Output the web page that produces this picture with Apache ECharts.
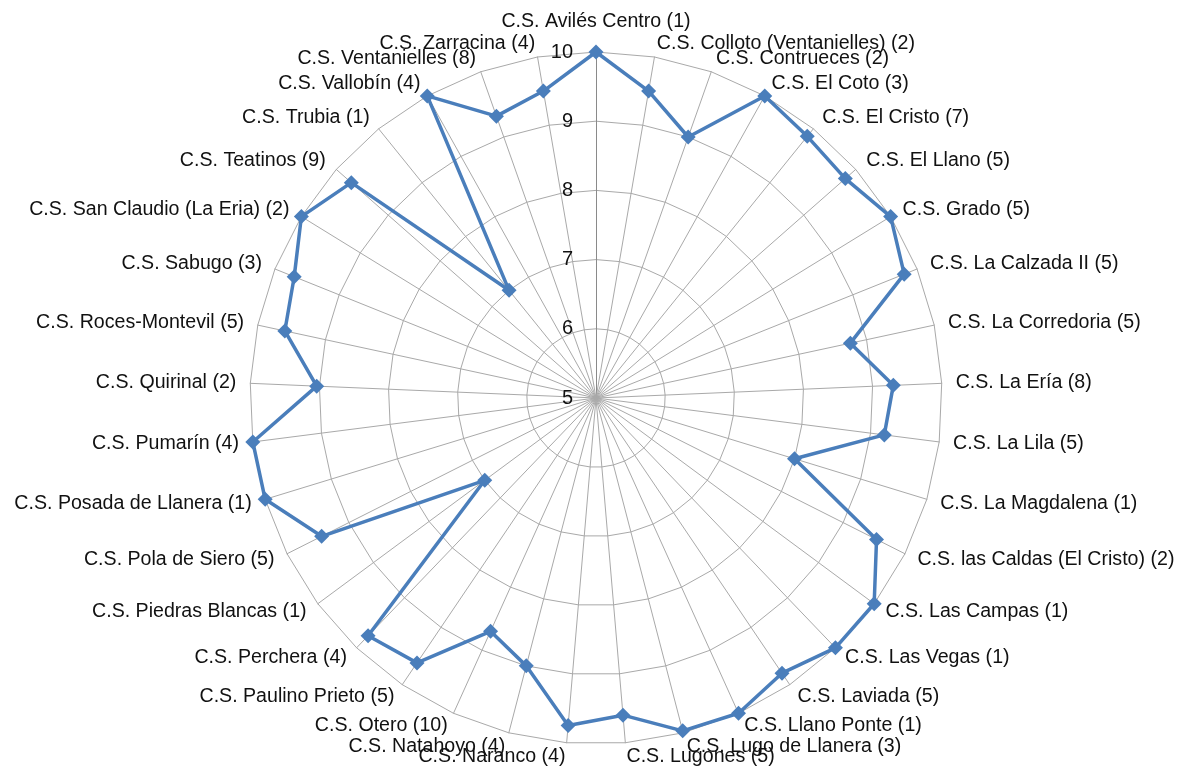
<!DOCTYPE html>
<html>
<head>
<meta charset="utf-8">
<script src="https://cdn.jsdelivr.net/npm/echarts@6/dist/echarts.min.js"></script>
<style>
html,body{margin:0;padding:0;background:#fff;}
#chart{width:1180px;height:769px;}
</style>
</head>
<body>
<div id="chart"></div>
<script>
// Categories in clockwise order starting from the top
const categories = [
  'C.S. Avilés Centro (1)',
  'C.S. Colloto (Ventanielles) (2)',
  'C.S. Contrueces (2)',
  'C.S. El Coto (3)',
  'C.S. El Cristo (7)',
  'C.S. El Llano (5)',
  'C.S. Grado (5)',
  'C.S. La Calzada II (5)',
  'C.S. La Corredoria (5)',
  'C.S. La Ería (8)',
  'C.S. La Lila (5)',
  'C.S. La Magdalena (1)',
  'C.S. las Caldas (El Cristo) (2)',
  'C.S. Las Campas (1)',
  'C.S. Las Vegas (1)',
  'C.S. Laviada (5)',
  'C.S. Llano Ponte (1)',
  'C.S. Lugo de Llanera (3)',
  'C.S. Lugones (5)',
  'C.S. Naranco (4)',
  'C.S. Natahoyo (4)',
  'C.S. Otero (10)',
  'C.S. Paulino Prieto (5)',
  'C.S. Perchera (4)',
  'C.S. Piedras Blancas (1)',
  'C.S. Pola de Siero (5)',
  'C.S. Posada de Llanera (1)',
  'C.S. Pumarín (4)',
  'C.S. Quirinal (2)',
  'C.S. Roces-Montevil (5)',
  'C.S. Sabugo (3)',
  'C.S. San Claudio (La Eria) (2)',
  'C.S. Teatinos (9)',
  'C.S. Trubia (1)',
  'C.S. Vallobín (4)',
  'C.S. Ventanielles (8)',
  'C.S. Zarracina (4)'
];

const values = [
  10, 9.5, 9.0, 10, 9.86, 9.8, 10, 9.8, 8.76, 9.3,
  9.2, 8.0, 9.54, 10, 10, 9.8, 10, 9.97, 9.6, 9.75,
  9.0, 8.7, 9.62, 9.76, 7.0, 9.44, 10, 10, 9.04, 9.6,
  9.7, 10, 9.71, 7.0, 10, 9.32, 9.5
];

const tickLabels = ['5', '6', '7', '8', '9', '10'];
const axisMin = 5;
const axisMax = 10;

// ECharts radar runs counter-clockwise; reverse all but the first to go clockwise
const order = [0];
for (let i = categories.length - 1; i >= 1; i--) order.push(i);

const FONT = 'Liberation Sans';
const TEXT = '#111111';
const GRID = '#a9a9a9';
const FS = 19.6;

const indicators = order.map(function (i, k) {
  const ind = { name: categories[i], min: axisMin, max: axisMax };
  if (k === 0) {
    ind.axisLabel = {
      show: true,
      margin: 23,
      color: TEXT,
      fontFamily: FONT,
      fontSize: 20,
      padding: [6, 0, 0, 0],
      formatter: function (v) { return tickLabels.indexOf(String(v)) >= 0 ? String(v) : ''; }
    };
    ind.axisLine = { show: true, lineStyle: { color: '#8a8a8a', width: 1 } };
  }
  return ind;
});

const chart = echarts.init(document.getElementById('chart'), null, { renderer: 'canvas' });
chart.setOption({
  backgroundColor: '#ffffff',
  animation: false,
  radar: {
    center: [596, 398],
    radius: 346,
    startAngle: 90,
    shape: 'polygon',
    splitNumber: 5,
    indicator: indicators,
    nameGap: 14,
    axisName: {
      color: TEXT,
      fontFamily: FONT,
      fontSize: FS,
      formatter: function (name) {
        return name === categories[0] ? '{t|' + name + '}' : name;
      },
      rich: {
        t: { color: TEXT, fontFamily: FONT, fontSize: FS, padding: [0, 0, 6, 0] }
      }
    },
    axisLine: { show: true, lineStyle: { color: GRID, width: 1 } },
    splitLine: { show: true, lineStyle: { color: GRID, width: 1 } },
    splitArea: { show: false },
    axisTick: { show: false },
    axisLabel: { show: false }
  },
  series: [{
    type: 'radar',
    symbol: 'diamond',
    symbolSize: 15,
    lineStyle: { color: '#4a7ebb', width: 3.5 },
    itemStyle: { color: '#4a7ebb' },
    data: [{ value: order.map(function (i) { return values[i]; }) }]
  }]
});
</script>
</body>
</html>
